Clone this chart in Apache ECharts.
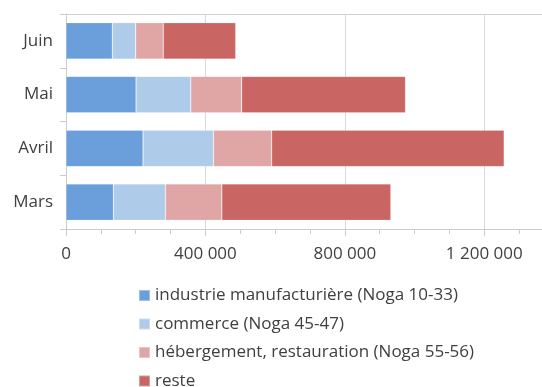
<!DOCTYPE html>
<html><head><meta charset="utf-8">
<script src="https://cdn.jsdelivr.net/npm/echarts@6/dist/echarts.min.js"></script>
<style>html,body{margin:0;padding:0;background:#fff}#c{width:542px;height:387px}</style>
</head><body><div id="c"></div>
<script>
const categories = ['Mars', 'Avril', 'Mai', 'Juin'];
const seriesNames = ['industrie manufacturière (Noga 10-33)', 'commerce (Noga 45-47)', 'hébergement, restauration (Noga 55-56)', 'reste'];
const industrie = [136000, 221000, 201000, 133000];
const commerce = [149000, 202000, 157000, 67000];
const hebergement = [162000, 167000, 146000, 79000];
const reste = [485000, 667000, 470000, 208000];
const colors = ['#6a9fdb', '#aecce9', '#e0a6a6', '#c96663'];
const values = [industrie, commerce, hebergement, reste];

const fmt = v => String(v).replace(/\B(?=(\d{3})+(?!\d))/g, ' ');
const FONT = 'Open Sans';
const chart = echarts.init(document.getElementById('c'));
chart.setOption({
  animation: false,
  textStyle: { fontFamily: FONT },
  grid: { left: 66, width: 488, top: 14, height: 215, containLabel: false, outerBoundsMode: 'none' },
  legend: {
    orient: 'vertical', left: 138, top: 287, height: 200, padding: 0, itemWidth: 11, itemHeight: 11, itemGap: 11.5,
    icon: 'rect',
    textStyle: { fontFamily: FONT, fontSize: 17, lineHeight: 17, color: '#404040' },
    data: seriesNames
  },
  xAxis: [{
    type: 'value', min: 0, max: 1400000, interval: 400000,
    axisLine: { show: true, lineStyle: { color: '#cccccc', width: 1 } },
    axisTick: { show: true, length: 7, lineStyle: { color: '#cccccc' } },
    minorTick: { show: true, splitNumber: 4, length: 5, lineStyle: { color: '#cccccc' } },
    splitLine: { show: true, showMaxLine: false, showMinLine: false, lineStyle: { color: '#d9d9d9', width: 1 } },
    axisLabel: { show: true, showMaxLabel: false, formatter: v => fmt(v), fontFamily: FONT, fontSize: 17, color: '#404040', margin: 17 }
  }, {
    type: 'value', position: 'top', min: 0, max: 1400000,
    axisLine: { show: true, lineStyle: { color: '#d0d0d0', width: 1 } },
    axisTick: { show: false }, axisLabel: { show: false }, splitLine: { show: false }
  }],
  yAxis: {
    type: 'category', data: categories,
    axisLine: { show: true, lineStyle: { color: '#cccccc' } },
    axisTick: { show: true, length: 6, lineStyle: { color: '#cccccc' } },
    axisLabel: { fontFamily: FONT, fontSize: 17, color: '#404040', margin: 13 }
  },
  series: values.map((arr, i) => ({
    name: seriesNames[i], type: 'bar', stack: 'total', data: arr,
    barCategoryGap: '32%',
    itemStyle: { color: colors[i], borderColor: 'rgba(255,255,255,0.35)', borderWidth: 0.6 }
  }))
});
</script></body></html>
